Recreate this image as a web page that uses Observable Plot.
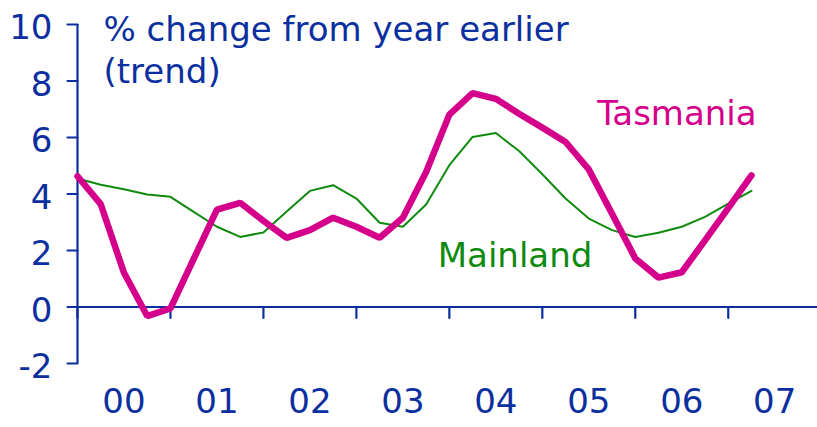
<!DOCTYPE html>
<html>
<head>
<meta charset="utf-8">
<script src="https://cdn.jsdelivr.net/npm/d3@7"></script>
<script src="https://cdn.jsdelivr.net/npm/@observablehq/plot@0.6"></script>
<style>
  html, body { margin: 0; padding: 0; background: #ffffff; }
  #chart svg { display: block; }
</style>
</head>
<body>
<div id="chart"></div>
<script>
// ---- data (quarterly, % change from year earlier, trend) ----
const startYear = 2000;
const quarterStep = 0.25;
const tasmania = [4.63, 3.64, 1.21, -0.32, -0.05, 1.70, 3.45, 3.69, 3.05, 2.45,
                  2.72, 3.16, 2.84, 2.45, 3.16, 4.78, 6.81, 7.57, 7.37, 6.84,
                  6.35, 5.84, 4.87, 3.30, 1.72, 1.04, 1.23, 2.36, 3.50, 4.66];
const mainland = [4.55, 4.33, 4.17, 3.98, 3.90, 3.37, 2.84, 2.48, 2.64, 3.38,
                  4.11, 4.31, 3.84, 2.98, 2.84, 3.63, 5.02, 6.02, 6.16, 5.52,
                  4.70, 3.84, 3.13, 2.72, 2.48, 2.63, 2.84, 3.19, 3.66, 4.11];
const yearTicks = [2000, 2001, 2002, 2003, 2004, 2005, 2006, 2007];
const yearLabels = ["00", "01", "02", "03", "04", "05", "06", "07"];
const yTicks = [-2, 0, 2, 4, 6, 8, 10];
const titleText = "% change from year earlier\n(trend)";
const seriesLabels = [
  {name: "Tasmania", x: 2005.59, y: 6.43, key: "tas"},
  {name: "Mainland", x: 2003.875, y: 1.42, key: "main"}
];

// ---- styles ----
const blue = "#0b2f9f";
const magenta = "#d4008c";
const green = "#0f8a0f";
const font = "DejaVu Sans";
const fs = 34;

const rows = (arr, name) => arr.map((v, i) => ({x: startYear + i * quarterStep, v, name}));
const tasRows = rows(tasmania, "Tasmania");
const mainRows = rows(mainland, "Mainland");

const tickShape = {draw(context, l) { context.moveTo(0, 0); context.lineTo(0, -l); }};

const chart = Plot.plot({
  width: 817,
  height: 427,
  marginLeft: 77,
  marginRight: 0,
  marginTop: 24,
  marginBottom: 64,
  style: {fontFamily: font, background: "#ffffff", overflow: "visible"},
  x: {domain: [2000, 2007.96], axis: null},
  y: {domain: [-2, 10], axis: null},
  marks: [
    // axes
    Plot.ruleX([2000], {stroke: blue, strokeWidth: 2.2}),
    Plot.ruleY([0], {stroke: blue, strokeWidth: 2.2}),
    Plot.vector(yTicks, {x: () => 2000, y: d => d, length: 10, rotate: 270, anchor: "start",
      shape: tickShape, stroke: blue, strokeWidth: 2.2}),
    Plot.vector(yearTicks, {x: d => d, y: () => 0, length: 11, rotate: 180, anchor: "start",
      shape: tickShape, stroke: blue, strokeWidth: 2.2}),
    Plot.text(yTicks, {x: () => 2000, y: d => d, text: d => String(d), textAnchor: "end",
      dx: -25, dy: 4, fontSize: fs, fill: blue, fontFamily: font}),
    Plot.text(yearTicks, {x: d => d + 0.5, text: (d, i) => yearLabels[i], frameAnchor: "bottom",
      dy: 49, fontSize: fs, fill: blue, fontFamily: font}),
    // title
    Plot.text([titleText], {frameAnchor: "top-left", dx: 26, dy: -13, lineAnchor: "top",
      lineHeight: 1.235, textAnchor: "start", fontSize: fs, fill: blue, fontFamily: font}),
    // series
    Plot.line(mainRows, {x: "x", y: "v", stroke: green, strokeWidth: 2, strokeLinejoin: "miter"}),
    Plot.line(tasRows, {x: "x", y: "v", stroke: magenta, strokeWidth: 6.5, strokeLinejoin: "miter", strokeLinecap: "round"}),
    // series labels
    Plot.text(seriesLabels, {x: "x", y: "y", text: "name", textAnchor: "start", lineAnchor: "bottom",
      fontSize: fs, fontFamily: font, fill: d => d.key === "tas" ? magenta : green})
  ]
});
document.getElementById("chart").appendChild(chart);
</script>
</body>
</html>
